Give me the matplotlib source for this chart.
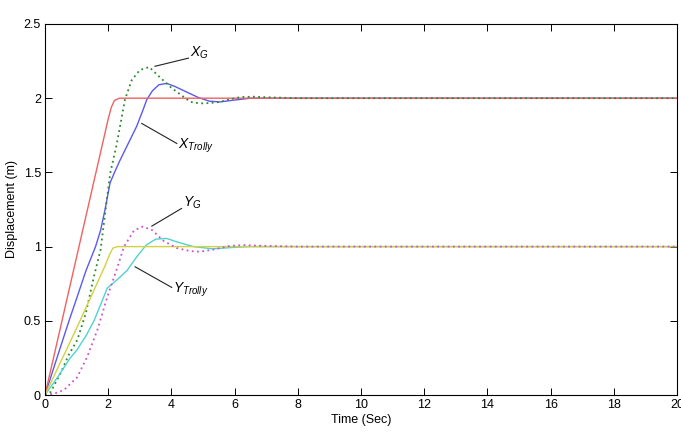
import matplotlib
matplotlib.use("Agg")
import matplotlib.pyplot as plt

plt.rcParams['font.family'] = ['Liberation Sans', 'DejaVu Sans']
plt.rcParams['mathtext.fontset'] = 'custom'
plt.rcParams['mathtext.it'] = 'Liberation Sans:italic'
plt.rcParams['mathtext.rm'] = 'Liberation Sans'

# X reference (red)
x_ref_t = [0, 1.0, 2.0, 2.1, 2.2, 2.35, 20]
x_ref_v = [0, 0.93, 1.86, 1.94, 1.985, 2.0, 2.0]
# Y reference (yellow)
y_ref_t = [0, 1.0, 1.9, 2.05, 2.15, 2.3, 20]
y_ref_v = [0, 0.45, 0.87, 0.95, 0.99, 1.0, 1.0]
# X trolley (blue)
x_tr_t = [0, 0.5, 0.76, 1.0, 1.3, 1.6, 1.76, 1.9, 2.06, 2.2, 2.37, 2.6, 2.9, 3.1, 3.22,
          3.4, 3.6, 3.85, 4.1, 4.5, 4.85, 5.2, 5.54, 5.9, 6.5, 7.0, 20]
x_tr_v = [0, 0.33, 0.5, 0.65, 0.84, 1.0, 1.11, 1.25, 1.43, 1.5, 1.58, 1.68, 1.81, 1.92, 1.99,
          2.05, 2.09, 2.10, 2.08, 2.04, 2.005, 1.98, 1.975, 1.985, 2.0, 2.0, 2.0]
# X load (green dotted)
x_g_t = [0, 0.18, 0.5, 0.75, 1.02, 1.29, 1.55, 1.76, 2.06, 2.27, 2.53, 2.74, 3.0, 3.3,
         3.59, 4.0, 4.38, 4.6, 4.9, 5.2, 5.54, 5.9, 6.2, 6.6, 7.2, 8.0, 20]
x_g_v = [0, 0.02, 0.15, 0.27, 0.37, 0.55, 0.80, 0.98, 1.49, 1.69, 1.99, 2.12, 2.19, 2.21,
         2.15, 2.07, 2.01, 1.975, 1.965, 1.967, 1.975, 1.995, 2.008, 2.01, 2.005, 2.0, 2.0]
# Y trolley (cyan)
y_tr_t = [0, 0.4, 0.8, 1.0, 1.3, 1.55, 1.8, 1.97, 2.3, 2.6, 2.9, 3.2, 3.5, 3.85, 4.2,
          4.7, 5.3, 6.0, 6.5, 20]
y_tr_v = [0, 0.12, 0.25, 0.30, 0.40, 0.50, 0.63, 0.72, 0.78, 0.84, 0.93, 1.01, 1.05, 1.055,
          1.03, 1.0, 0.985, 0.995, 1.0, 1.0]
# Y load (magenta dotted)
y_g_t = [0, 0.3, 0.6, 1.02, 1.34, 1.66, 1.97, 2.29, 2.5, 2.82, 3.1, 3.4, 3.74, 4.17,
         4.59, 4.9, 5.33, 5.85, 6.3, 6.9, 8.0, 20]
y_g_v = [0, 0.01, 0.034, 0.12, 0.26, 0.44, 0.66, 0.86, 1.0, 1.11, 1.135, 1.11, 1.04, 0.99,
         0.97, 0.965, 0.98, 1.005, 1.01, 1.005, 1.0, 1.0]

x_ticks = [0, 2, 4, 6, 8, 10, 12, 14, 16, 18, 20]
y_ticks = [0, 0.5, 1, 1.5, 2, 2.5]
y_tick_labels = ['0', '0.5', '1', '1.5', '2', '2.5']

fig = plt.figure(figsize=(6.81, 4.32), dpi=100)
ax = fig.add_axes([45/681, 37/432, 632/681, 371/432])

dot = (0, (1, 1.9))
ax.plot(x_tr_t, x_tr_v, color='#5a5af0', lw=1.0)
ax.plot(x_ref_t, x_ref_v, color='#f06262', lw=1.0)
ax.plot(x_g_t, x_g_v, color='#2a8a2a', lw=1.3, linestyle=dot)
ax.plot(y_tr_t, y_tr_v, color='#50d2d2', lw=1.0)
ax.plot(y_ref_t, y_ref_v, color='#d2d240', lw=1.0)
ax.plot(y_g_t, y_g_v, color='#d050d0', lw=1.3, linestyle=dot)

# annotations
lc = '#222222'
ax.plot([3.48, 4.54], [2.215, 2.27], color=lc, lw=0.8)
ax.text(4.6, 2.25, r'$X_{G}$', fontsize=10, ha='left', va='bottom')
ax.plot([3.06, 4.17], [1.83, 1.695], color=lc, lw=0.8)
ax.text(4.2, 1.62, r'$X_{Trolly}$', fontsize=10, ha='left', va='bottom')
ax.plot([3.38, 4.32], [1.138, 1.257], color=lc, lw=0.8)
ax.text(4.38, 1.24, r'$Y_{G}$', fontsize=10, ha='left', va='bottom')
ax.plot([2.85, 4.01], [0.864, 0.725], color=lc, lw=0.8)
ax.text(4.05, 0.645, r'$Y_{Trolly}$', fontsize=10, ha='left', va='bottom')

ax.set_xlim(0, 20)
ax.set_ylim(0, 2.5)
ax.set_xticks(x_ticks)
ax.set_yticks(y_ticks)
ax.set_yticklabels(y_tick_labels)
ax.tick_params(direction='in', top=True, right=True, length=5, width=0.7,
               labelsize=9, pad=3)
for s in ax.spines.values():
    s.set_linewidth(0.8)
ax.set_xlabel('Time (Sec)', fontsize=9, labelpad=2)
ax.set_ylabel('Displacement (m)', fontsize=9, labelpad=4)

fig.savefig('out.png', dpi=100)
